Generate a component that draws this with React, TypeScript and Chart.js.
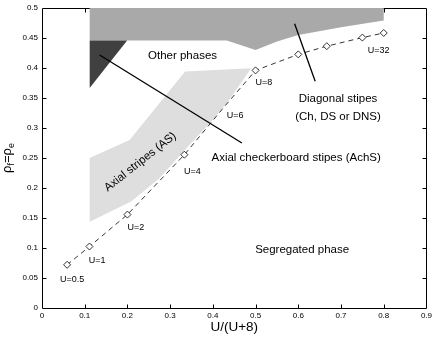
import React, { useEffect, useRef } from "react";
import { Chart, registerables } from "chart.js";

Chart.register(...registerables);

const FONT = '"Liberation Sans", Arial, Helvetica, sans-serif';

// Axis ticks
const X_TICKS = [0, 0.1, 0.2, 0.3, 0.4, 0.5, 0.6, 0.7, 0.8, 0.9];
const Y_TICKS = [0, 0.05, 0.1, 0.15, 0.2, 0.25, 0.3, 0.35, 0.4, 0.45, 0.5];

// Boundary points (U values, x = U/(U+8), rho)
const U_VALUES = [0.5, 1, 2, 4, 6, 8, 12, 16, 24, 32];
const U_X = [0.0588, 0.1111, 0.2, 0.3333, 0.4286, 0.5, 0.6, 0.6667, 0.75, 0.8];
const RHO = [0.072, 0.1025, 0.1557, 0.2555, 0.337, 0.396, 0.4227, 0.4364, 0.4507, 0.4584];
const MARKED = [true, true, true, true, false, true, true, true, true, true];
const LABELLED_U = [0.5, 1, 2, 4, 6, 8, 32];

// "Other phases" / diagonal stripes region (top, medium gray)
const OTHER_X = [0.1116, 0.8, 0.8, 0.7, 0.6, 0.55, 0.5, 0.4326, 0.1116];
const OTHER_Y = [0.5, 0.5, 0.479, 0.468, 0.455, 0.444, 0.43, 0.446, 0.446];

// Axial checkerboard stripes region (dark triangle)
const ACHS_X = [0.1116, 0.1993, 0.1116];
const ACHS_Y = [0.4457, 0.4457, 0.3668];

// Axial stripes region (light gray band)
const AS_X = [0.1116, 0.205, 0.335, 0.49, 0.4333, 0.3907, 0.344, 0.2744, 0.2086, 0.1116];
const AS_Y = [0.25, 0.28, 0.394, 0.3995, 0.342, 0.3064, 0.271, 0.216, 0.1776, 0.1436];

// Pointer lines
const PTR_ACHS_X = [0.1349, 0.468];
const PTR_ACHS_Y = [0.4216, 0.275];
const PTR_DIAG_X = [0.5914, 0.6395];
const PTR_DIAG_Y = [0.4737, 0.3778];

// Text annotations (data coordinates, centred)
const NOTE_TEXT = [
  "Other phases",
  "Diagonal stipes",
  "(Ch, DS or DNS)",
  "Axial checkerboard stipes (AchS)",
  "Segregated phase",
];
const NOTE_X = [0.329, 0.693, 0.693, 0.595, 0.609];
const NOTE_Y = [0.421, 0.349, 0.318, 0.25, 0.097];

// U labels (data coordinates of left edge)
const ULABEL_X = [0.0419, 0.1093, 0.2, 0.3326, 0.4326, 0.5, 0.7628];
const ULABEL_Y = [0.0477, 0.079, 0.1337, 0.228, 0.3207, 0.375, 0.4298];

const AS_LABEL = "Axial stripes (AS)";
const AS_LABEL_X = 0.2302;
const AS_LABEL_Y = 0.2434;
const AS_LABEL_ANGLE = -38.4;

const pts = (xs: number[], ys: number[]) => xs.map((x, i) => ({ x, y: ys[i] }));

const fmt = (v: number) => String(Math.round(v * 100) / 100);

const framePlugin = {
  id: "frame",
  beforeDatasetsDraw(chart: any) {
    const { ctx, chartArea: a, scales } = chart;
    const L = Math.round(a.left) + 0.5;
    const R = Math.round(a.right) + 0.5;
    const T = Math.round(a.top) + 0.5;
    const B = Math.round(a.bottom) + 0.5;
    ctx.save();
    ctx.strokeStyle = "#000";
    ctx.lineWidth = 1;
    ctx.beginPath();
    ctx.rect(L, T, R - L, B - T);
    ctx.stroke();
    const tl = 4;
    ctx.beginPath();
    X_TICKS.slice(1, -1).forEach((v) => {
      const px = Math.round(scales.x.getPixelForValue(v)) + 0.5;
      ctx.moveTo(px, B);
      ctx.lineTo(px, B - tl);
      ctx.moveTo(px, T);
      ctx.lineTo(px, T + tl);
    });
    Y_TICKS.slice(1, -1).forEach((v) => {
      const py = Math.round(scales.y.getPixelForValue(v)) + 0.5;
      ctx.moveTo(L, py);
      ctx.lineTo(L + tl, py);
      ctx.moveTo(R, py);
      ctx.lineTo(R - tl, py);
    });
    ctx.stroke();
    ctx.restore();
  },
};

const textPlugin = {
  id: "texts",
  afterDatasetsDraw(chart: any) {
    const { ctx, scales } = chart;
    const sx = (v: number) => scales.x.getPixelForValue(v);
    const sy = (v: number) => scales.y.getPixelForValue(v);
    ctx.save();
    ctx.fillStyle = "#000";
    ctx.textBaseline = "middle";

    ctx.font = `11.5px ${FONT}`;
    ctx.textAlign = "center";
    NOTE_TEXT.forEach((t, i) => ctx.fillText(t, sx(NOTE_X[i]), sy(NOTE_Y[i])));

    ctx.save();
    ctx.translate(sx(AS_LABEL_X), sy(AS_LABEL_Y));
    ctx.rotate((AS_LABEL_ANGLE * Math.PI) / 180);
    ctx.fillText(AS_LABEL, 0, 0);
    ctx.restore();

    ctx.font = `9px ${FONT}`;
    ctx.textAlign = "left";
    LABELLED_U.forEach((u, i) => ctx.fillText(`U=${u}`, sx(ULABEL_X[i]), sy(ULABEL_Y[i])));

    // y-axis label rho_f = rho_e
    const big = `13px ${FONT}`;
    const small = `9px ${FONT}`;
    const parts: [string, string, number][] = [
      ["\u03c1", big, 0],
      ["f", small, 3],
      ["=", big, 0],
      ["\u03c1", big, 0],
      ["e", small, 3],
    ];
    let total = 0;
    const widths = parts.map(([t, f]) => {
      ctx.font = f;
      const w = ctx.measureText(t).width;
      total += w;
      return w;
    });
    ctx.translate(11, 158);
    ctx.rotate(-Math.PI / 2);
    ctx.textBaseline = "alphabetic";
    let x = -total / 2;
    parts.forEach(([t, f, dy], i) => {
      ctx.font = f;
      ctx.fillText(t, x, dy);
      x += widths[i];
    });
    ctx.restore();
  },
};

export default function App() {
  const ref = useRef<HTMLCanvasElement | null>(null);

  useEffect(() => {
    if (!ref.current) return;
    const tickFont = { family: FONT, size: 8, lineHeight: 1 };
    const chart = new Chart(ref.current, {
      type: "scatter",
      data: {
        datasets: [
          {
            data: pts(U_X, RHO),
            showLine: true,
            borderColor: "#000",
            borderWidth: 0.8,
            borderDash: [5, 4],
            pointStyle: "rectRot",
            pointRadius: MARKED.map((m) => (m ? 3.5 : 0)),
            pointBackgroundColor: "#fff",
            pointBorderColor: "#000",
            pointBorderWidth: 0.8,
            fill: false,
          },
          {
            data: pts(PTR_ACHS_X, PTR_ACHS_Y),
            showLine: true,
            borderColor: "#000",
            borderWidth: 1.3,
            pointRadius: 0,
            fill: false,
          },
          {
            data: pts(PTR_DIAG_X, PTR_DIAG_Y),
            showLine: true,
            borderColor: "#000",
            borderWidth: 1.3,
            pointRadius: 0,
            fill: false,
          },
          {
            data: pts(ACHS_X, ACHS_Y),
            showLine: true,
            borderColor: "rgba(0,0,0,0)",
            borderWidth: 0,
            backgroundColor: "#404040",
            pointRadius: 0,
            fill: "shape",
          },
          {
            data: pts(AS_X, AS_Y),
            showLine: true,
            borderColor: "rgba(0,0,0,0)",
            borderWidth: 0,
            backgroundColor: "#dedede",
            pointRadius: 0,
            fill: "shape",
          },
          {
            data: pts(OTHER_X, OTHER_Y),
            showLine: true,
            borderColor: "rgba(0,0,0,0)",
            borderWidth: 0,
            backgroundColor: "#a9a9a9",
            pointRadius: 0,
            fill: "shape",
          },
        ],
      },
      options: {
        responsive: false,
        animation: false,
        events: [],
        layout: { padding: { left: 0, right: 7, top: 4, bottom: 0 } },
        plugins: {
          legend: { display: false },
          tooltip: { enabled: false },
        },
        scales: {
          x: {
            type: "linear",
            min: 0,
            max: 0.9,
            afterBuildTicks: (s: any) => {
              s.ticks = X_TICKS.map((v) => ({ value: v }));
            },
            afterFit: (s: any) => {
              s.height = 31;
            },
            ticks: {
              font: tickFont,
              color: "#000",
              padding: 4,
              autoSkip: false,
              maxRotation: 0,
              callback: (v: any) => fmt(Number(v)),
            },
            grid: { display: false, drawTicks: false },
            border: { display: false },
            title: {
              display: true,
              text: "U/(U+8)",
              color: "#000",
              font: { family: FONT, size: 13.5 },
              padding: { top: 0, bottom: 4 },
            },
          },
          y: {
            type: "linear",
            min: 0,
            max: 0.5,
            afterBuildTicks: (s: any) => {
              s.ticks = Y_TICKS.map((v) => ({ value: v }));
            },
            afterFit: (s: any) => {
              s.width = 42;
            },
            ticks: {
              font: tickFont,
              color: "#000",
              padding: 4,
              autoSkip: false,
              callback: (v: any) => fmt(Number(v)),
            },
            grid: { display: false, drawTicks: false },
            border: { display: false },
          },
        },
      } as any,
      plugins: [framePlugin, textPlugin],
    });
    return () => chart.destroy();
  }, []);

  return (
    <div style={{ position: "absolute", left: 0, top: 0, width: 436, height: 339, background: "#fff" }}>
      <canvas ref={ref} width={436} height={339} style={{ display: "block" }} />
    </div>
  );
}
